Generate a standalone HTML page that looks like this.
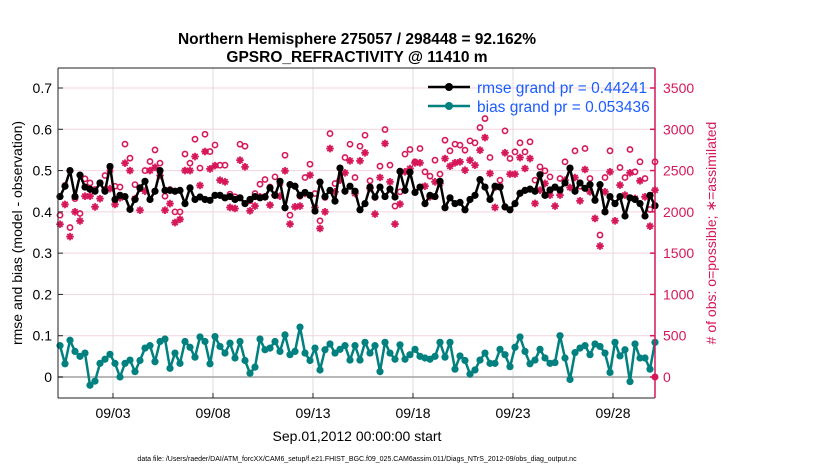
<!DOCTYPE html>
<html><head><meta charset="utf-8"><style>
body{margin:0;background:#fff;font-family:"Liberation Sans",sans-serif}
svg text{font-family:"Liberation Sans",sans-serif}
</style></head><body>
<svg id="c" width="830" height="470" xmlns="http://www.w3.org/2000/svg">
<rect width="830" height="470" fill="#fff"/>
<text x="357" y="44" text-anchor="middle" font-size="15.5" font-weight="bold">Northern Hemisphere 275057 / 298448 = 92.162%</text>
<text x="357" y="62" text-anchor="middle" font-size="15.5" font-weight="bold">GPSRO_REFRACTIVITY @ 11410 m</text>
<g id="grid"></g>
<g id="marks"></g>
<g id="axes"></g>
<text transform="translate(22,233) rotate(-90)" text-anchor="middle" font-size="14">rmse and bias (model - observation)</text>
<text transform="translate(716,233) rotate(-90)" text-anchor="middle" font-size="14" fill="#d6175a"># of obs: o=possible; ∗=assimilated</text>
<text x="357" y="441" text-anchor="middle" font-size="14">Sep.01,2012 00:00:00 start</text>
<text x="357" y="461" text-anchor="middle" font-size="7">data file: /Users/raeder/DAI/ATM_forcXX/CAM6_setup/f.e21.FHIST_BGC.f09_025.CAM6assim.011/Diags_NTrS_2012-09/obs_diag_output.nc</text>
<g>
<line x1="428" y1="87" x2="470" y2="87" stroke="#000" stroke-width="2.5"/><circle cx="449" cy="87" r="4" fill="#000"/>
<text x="477" y="93" font-size="15.5" fill="#1a5cff">rmse grand pr = 0.44241</text>
<line x1="428" y1="106" x2="470" y2="106" stroke="#00807f" stroke-width="2.5"/><circle cx="449" cy="106" r="4" fill="#00807f"/>
<text x="477" y="112" font-size="15.5" fill="#1a5cff">bias grand pr = 0.053436</text>
</g>
</svg>
<script>
const rmse=[.437,.462,.5,.437,.489,.46,.455,.45,.47,.45,.51,.43,.44,.437,.406,.43,.458,.474,.43,.45,.5,.452,.452,.45,.452,.42,.458,.43,.436,.43,.428,.44,
.44,.434,.437,.43,.434,.42,.43,.437,.434,.436,.458,.44,.474,.41,.466,.462,.44,.447,.44,.402,.472,.437,.452,.426,.506,.45,.462,.45,.405,.42,.46,
.436,.46,.437,.455,.436,.498,.452,.496,.447,.46,.42,.44,.437,.474,.41,.434,.42,.423,.405,.43,.44,.478,.46,.43,.462,.46,.412,.405,.42,.445,.452,
.455,.45,.49,.44,.453,.46,.453,.47,.506,.45,.47,.457,.466,.428,.466,.4,.437,.42,.437,.39,.434,.43,.42,.39,.44,.415];
const bias=[.076,.032,.089,.062,.05,.058,-.02,-.01,.033,.043,.055,.033,0,.033,.041,.013,.04,.07,.076,.037,.086,.092,.021,.058,.033,.086,.072,.048,.097,.086,.032,.098,.074,.058,.082,.046,.086,.04,.009,.024,.092,.066,.07,.086,.062,.102,.054,.062,.121,.058,.04,.07,.017,.066,.08,.058,.067,.076,.041,.076,
.041,.084,.058,.076,.013,.084,.058,.043,.078,.043,.054,.067,.05,.046,.043,.05,.084,.048,.084,.019,.051,.04,.007,.017,.041,.058,.033,.033,.067,.054,.025,.072,.097,.062,.032,.041,.067,.046,.033,.035,.1,.046,-.006,.059,.07,.076,.054,.08,.074,.058,.011,.084,.051,.066,-.011,.08,.046,.046,.019,.084];
const possible=[1960,2320,1810,2160,1980,2400,2350,2270,2350,2440,2500,2310,2300,2820,2650,2330,2280,2500,2610,2750,2590,2190,2270,2000,2000,2700,2590,2880,2530,2940,2730,2810,
2565,2565,2214,2182,2819,2795,2134,2222,2335,2392,2300,2424,2343,2686,1960,2311,2190,2416,2577,2222,1892,2174,2948,2343,2392,2658,2819,2416,2795,2928,2376,
2174,2553,2997,2566,2070,2243,2699,2755,2606,2767,2485,2432,2626,2457,2868,2739,2820,2808,2747,2860,2836,3021,3130,2658,2295,2384,2981,2646,2727,2836,2727,
2848,2384,2545,2497,2424,2295,2404,2606,2525,2739,2311,2767,2404,2142,1719,2416,2739,2102,2537,2416,2755,2485,2606,2404,2029,2606];
const assimilated=[1850,2090,1700,2000,1890,2190,2190,2060,2160,2270,2280,2090,2170,2590,2500,2160,2020,2250,2500,2540,2440,2020,2100,1870,1910,2500,2500,2670,2320,2730,2520,2560,
2384,2364,2053,2041,2626,2545,2013,2070,2182,2182,2082,2203,2190,2497,1852,2061,2070,2223,2445,2053,1799,2001,2767,2243,2384,2473,2618,2223,2618,2715,2283,
1973,2416,2828,2364,1852,2094,2485,2525,2594,2594,2311,2182,2364,2344,2646,2553,2594,2606,2505,2626,2565,2747,2900,2465,2053,2311,2715,2457,2457,2658,2525,
2646,2102,2263,2344,2203,2070,2203,2384,2295,2416,2134,2513,2243,1920,1586,2243,2485,1892,2324,2203,2473,2162,2376,2182,1827,2263];
const xTickDays=[2,7,12,17,22,27];
const xTickLabels=["09/03","09/08","09/13","09/18","09/23","09/28"];
const yLeftTicks=[0,0.1,0.2,0.3,0.4,0.5,0.6,0.7];
const yRightTicks=[0,500,1000,1500,2000,2500,3000,3500];

const NS="http://www.w3.org/2000/svg";
const L=58,R=655,T=68,B=398;
const xmin=-0.75,xmax=29.1;
const X=d=>L+(d-xmin)/(xmax-xmin)*(R-L);
const Y0=377,Y7=88;
const YL=v=>Y0-v/0.7*(Y0-Y7);
const YR=v=>Y0-v/3500*(Y0-Y7);
const tDay=i=>-0.65+0.25*i;
function el(tag,attrs,parent){const e=document.createElementNS(NS,tag);for(const k in attrs)e.setAttribute(k,attrs[k]);parent.appendChild(e);return e;}
const grid=document.getElementById('grid'),marks=document.getElementById('marks'),axes=document.getElementById('axes');
el('rect',{x:L,y:T,width:R-L,height:B-T,fill:'#fff'},grid);
xTickDays.forEach(d=>{const g=el('line',{x1:X(d),x2:X(d),y1:T,y2:B,stroke:'#dcdcdc','stroke-width':1},grid);

});
yRightTicks.forEach(v=>{if(v===0)return;const g=el('line',{x1:L,x2:R,y1:YR(v),y2:YR(v),stroke:'#f3d3de','stroke-width':1},grid);

});
el('line',{x1:L,x2:R,y1:YL(0),y2:YL(0),stroke:'#b8b8b8','stroke-width':2},grid);
const C='#d6175a';
possible.forEach((v,i)=>{const c=el('circle',{cx:X(tDay(i)),cy:YR(v),r:2.6,fill:'none',stroke:C,'stroke-width':1.6},marks);

});
assimilated.forEach((v,i)=>{const cx=X(tDay(i)),cy=YR(v),s=3.8;
 const d=`M${cx-s},${cy}H${cx+s}M${cx},${cy-s}V${cy+s}M${cx-s*.7},${cy-s*.7}L${cx+s*.7},${cy+s*.7}M${cx-s*.7},${cy+s*.7}L${cx+s*.7},${cy-s*.7}`;
 const p=el('path',{d:d,stroke:C,'stroke-width':1.8,fill:'none'},marks);
 
 });
function series(arr,color,name){
 const p=el('polyline',{points:arr.map((v,i)=>X(tDay(i))+','+YL(v)).join(' '),fill:'none',stroke:color,'stroke-width':2.5,'stroke-linejoin':'round'},marks);
 
 
 arr.forEach((v,i)=>{const c=el('circle',{cx:X(tDay(i)),cy:YL(v),r:3.6,fill:color},marks);
 
 });
}
series(rmse,'#000','rmse');
series(bias,'#00807f','bias');
el('circle',{cx:R,cy:YR(0),r:3.5,fill:C},marks);
el('line',{x1:L,x2:L,y1:T,y2:B,stroke:'#222','stroke-width':1},axes);
el('line',{x1:L,x2:R,y1:B,y2:B,stroke:'#222','stroke-width':1},axes);
el('line',{x1:L,x2:R,y1:T,y2:T,stroke:'#222','stroke-width':1},axes);
el('line',{x1:R,x2:R,y1:T,y2:B,stroke:C,'stroke-width':1.5},axes);
yLeftTicks.forEach(v=>{el('line',{x1:L,x2:L+5,y1:YL(v),y2:YL(v),stroke:'#222'},axes);
 const t=el('text',{x:L-6,y:YL(v)+5,'text-anchor':'end','font-size':14},axes);t.textContent=v===0?'0':v.toFixed(1);
 
 });
yRightTicks.forEach(v=>{el('line',{x1:R-5,x2:R,y1:YR(v),y2:YR(v),stroke:C,'stroke-width':1.5},axes);
 const t=el('text',{x:R+8,y:YR(v)+5,'font-size':14,fill:C},axes);t.textContent=v;
 
 });
xTickDays.forEach((d,i)=>{el('line',{x1:X(d),x2:X(d),y1:B,y2:B-5,stroke:'#222'},axes);
 const t=el('text',{x:X(d),y:B+20,'text-anchor':'middle','font-size':14},axes);t.textContent=xTickLabels[i];
 
 });
</script>
</body></html>
